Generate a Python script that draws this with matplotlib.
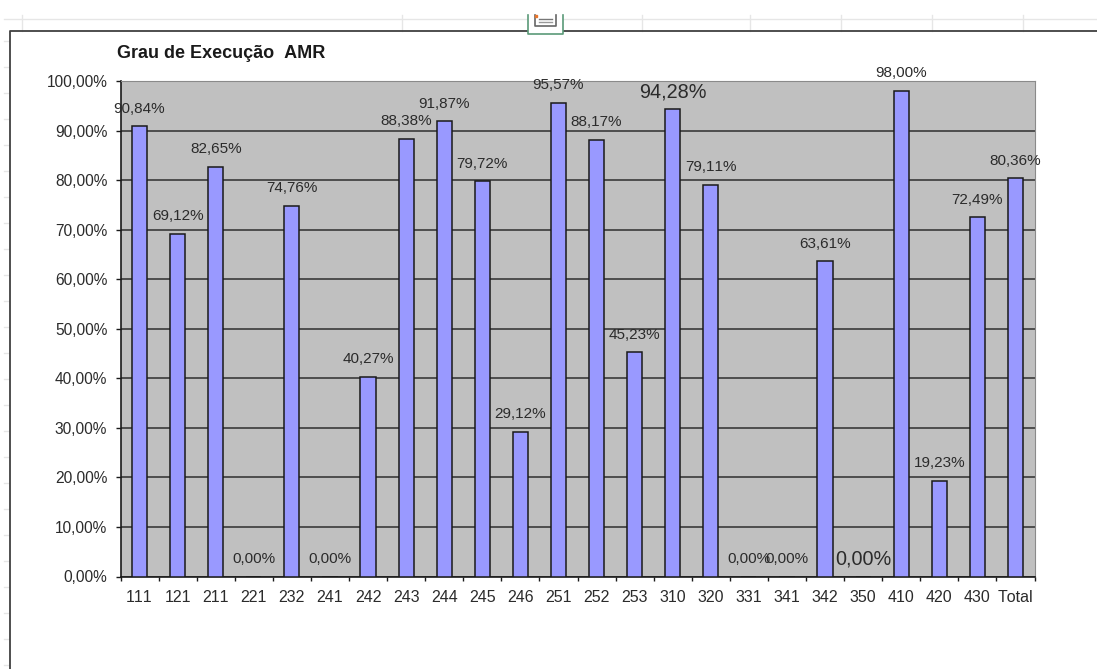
import matplotlib
matplotlib.use('Agg')
import matplotlib.pyplot as plt
from matplotlib.patches import Rectangle

categories = ['111', '121', '211', '221', '232', '241', '242', '243', '244', '245', '246', '251',
              '252', '253', '310', '320', '331', '341', '342', '350', '410', '420', '430', 'Total']
values = [90.84, 69.12, 82.65, 0.00, 74.76, 0.00, 40.27, 88.38, 91.87, 79.72, 29.12, 95.57,
          88.17, 45.23, 94.28, 79.11, 0.00, 0.00, 63.61, 0.00, 98.00, 19.23, 72.49, 80.36]
yticks = [0, 10, 20, 30, 40, 50, 60, 70, 80, 90, 100]

# two labels were enlarged by hand in the spreadsheet
label_size = [11] * 24
label_size[14] = 14.3
label_size[19] = 14.3

W, H = 1097, 669
BAR = '#9999ff'
TXT = '#2b2b2b'

plt.rcParams['font.family'] = ['Liberation Sans', 'DejaVu Sans']
plt.rcParams['text.kerning_factor'] = 6
fig = plt.figure(figsize=(W / 100, H / 100), dpi=100, facecolor='white')

# spreadsheet behind the chart, in pixel coords
bg = fig.add_axes([0, 0, 1, 1])
bg.set_xlim(0, W)
bg.set_ylim(H, 0)
bg.axis('off')
bg.plot([4, W], [18.5, 18.5], color='#e6e6e6', lw=1)
for x in [22, 402, 642, 750, 841, 932, 1023]:
    bg.plot([x, x], [15, 31], color='#e6e6e6', lw=1)
for y in range(41, 669, 26):
    bg.plot([4, 9], [y, y], color='#e6e6e6', lw=1)
bg.plot([W, 9.5, 9.5], [31, 31, H], color='#404040', lw=1.3)
bg.add_patch(Rectangle((528, 15), 35, 19, fc='white', ec='none', zorder=3))
bg.plot([528, 528, 563, 563], [15, 34, 34, 15], color='#5a9a78', lw=1.2, zorder=4)
bg.plot([535, 535, 556, 556], [15, 25.5, 25.5, 15], color='#666666', lw=1.2, zorder=4)
bg.plot([539, 552], [19, 19], color='#777777', lw=1, zorder=4)
bg.plot([539, 552], [22, 22], color='#999999', lw=1, zorder=4)
bg.plot([535.5], [16], 's', color='#e8762c', ms=2, zorder=5)

x0, x1, y0, y1 = 120.5, 1034.5, 81, 576.5
ax = fig.add_axes([x0 / W, 1 - y1 / H, (x1 - x0) / W, (y1 - y0) / H])
ax.set_facecolor('#c0c0c0')
ax.set_xlim(0, len(categories))
ax.set_ylim(0, 100)

pos = [i + 0.5 for i in range(len(categories))]
ax.bar(pos, values, width=0.4, color=BAR, edgecolor='#1a1a1a', linewidth=1.1, zorder=3)

ax.set_yticks(yticks)
ax.set_yticklabels(['%d,00%%' % v for v in yticks], fontsize=11.2, color=TXT)
ax.set_xticks(range(len(categories) + 1))
ax.set_xticklabels([])
ax.set_xticks(pos, minor=True)
ax.set_xticklabels(categories, minor=True, fontsize=11.5, color=TXT)
ax.tick_params(axis='x', which='minor', length=0, pad=9.5)
ax.tick_params(axis='x', which='major', length=3, width=1, color='#1a1a1a')
ax.tick_params(axis='y', length=3.5, width=1, color='#1a1a1a', pad=6)
ax.grid(axis='y', color='#2e2e2e', lw=1.1, zorder=1)
ax.get_ygridlines()[-1].set_visible(False)
ax.set_axisbelow(True)

for s in ['top', 'right']:
    ax.spines[s].set_color('#8a8a8a')
for s in ['left', 'bottom']:
    ax.spines[s].set_color('#1a1a1a')
    ax.spines[s].set_linewidth(1.2)

for i, v in enumerate(values):
    ax.annotate(('%.2f%%' % v).replace('.', ','), xy=(pos[i], v), xytext=(0, 12.8),
                textcoords='offset points', ha='center', va='center',
                fontsize=label_size[i], color=TXT, zorder=5, annotation_clip=False)

fig.text(117 / W, 1 - 53 / H, 'Grau de Execução  AMR', fontsize=13, fontweight='bold',
         color='#1a1a1a', ha='left', va='center')

fig.savefig('out.png', dpi=100)
